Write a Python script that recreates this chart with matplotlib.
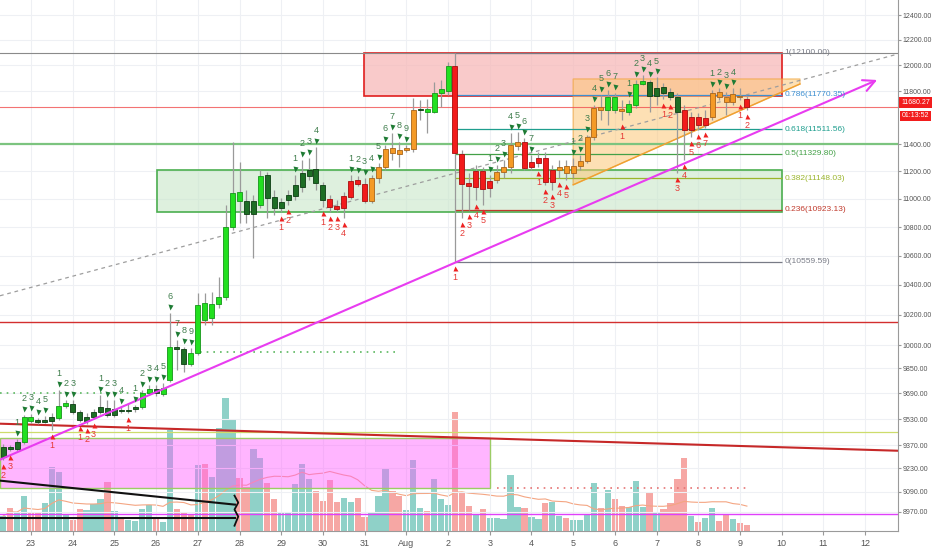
import numpy as np
import pandas as pd
import matplotlib
matplotlib.use("Agg")
import matplotlib.pyplot as plt
from matplotlib.patches import Rectangle, Polygon
from matplotlib.ticker import FixedLocator, NullLocator, FixedFormatter
import matplotlib.transforms as mtransforms

plt.rcParams['font.family'] = ['Liberation Sans', 'DejaVu Sans']

# ---------------- data ----------------
# time in days since 23 Jul 00:00, 4h candles starting 22 Jul 08:00
first_candle_day = -2 / 3
n_candles = 108

opens = [9299, 9360, 9348, 9390, 9544, 9526, 9513, 9520, 9538, 9613,
         9625, 9575, 9520, 9544, 9575, 9600, 9557, 9588, 9582, 9594,
         9607, 9695, 9720, 9689, 9777, 9989, 9977, 9950, 9950, 10280,
         10180, 10273, 10320, 10801, 11050, 10986, 10893, 10957, 11173, 11014,
         10936, 10993, 11022, 11086, 11166, 11217, 11101, 11000, 10950, 10936,
         11014, 11137, 11108, 10986, 11151, 11231, 11371, 11356, 11356, 11364,
         11656, 11664, 11641, 11786, 11801, 11995, 11327, 11115, 11086, 11202,
         11079, 11137, 11195, 11231, 11386, 11416, 11231, 11261, 11297, 11122,
         11210, 11239, 11188, 11239, 11275, 11453, 11679, 11656, 11756, 11664,
         11641, 11694, 11855, 11870, 11763, 11832, 11794, 11756, 11656, 11505,
         11603, 11543, 11603, 11794, 11756, 11717, 11763, 11740]
highs = [9378, 9372, 9409, 9557, 9563, 9538, 9551, 9569, 9714, 9651,
         9651, 9588, 9569, 9594, 9682, 9651, 9651, 9607, 9632, 9619,
         9714, 9745, 9745, 9758, 10213, 10035, 9989, 9983, 10347, 10347,
         10354, 10455, 10957, 11416, 11268, 11065, 11029, 11210, 11195, 11065,
         11007, 11065, 11173, 11283, 11297, 11379, 11122, 11029, 10993, 11050,
         11173, 11166, 11151, 11173, 11261, 11394, 11483, 11416, 11394, 11748,
         11732, 11740, 11870, 11886, 12026, 12097, 11357, 11188, 11246, 11231,
         11173, 11246, 11283, 11483, 11490, 11446, 11320, 11342, 11342, 11246,
         11283, 11283, 11297, 11320, 11468, 11694, 11771, 11809, 11786, 11732,
         11732, 11886, 11925, 11886, 11909, 11863, 11824, 11786, 11694, 11641,
         11633, 11656, 11809, 11824, 11794, 11824, 11824, 11763]
lows = [9281, 9336, 9336, 9378, 9507, 9501, 9507, 9464, 9526, 9600,
        9563, 9513, 9501, 9532, 9563, 9544, 9544, 9569, 9569, 9575,
        9594, 9682, 9676, 9676, 9764, 9841, 9828, 9867, 9938, 10134,
        10134, 10246, 10300, 10780, 10829, 10829, 10585, 10936, 10864, 10886,
        10907, 10957, 10993, 11050, 11137, 11065, 10943, 10907, 10907, 10864,
        11000, 11094, 10972, 10972, 11115, 11210, 11283, 11231, 11342, 11342,
        11580, 11483, 11633, 11679, 11771, 10559.59, 10864, 10922, 10993, 10957,
        11014, 11115, 11151, 11188, 11357, 11210, 11210, 11231, 11101, 11065,
        11151, 11137, 11151, 11210, 11261, 11431, 11580, 11543, 11633, 11580,
        11618, 11671, 11847, 11641, 11694, 11740, 11732, 11188, 11283, 11453,
        11505, 11520, 11580, 11732, 11618, 11694, 11732, 11656]
closes = [9360, 9348, 9390, 9544, 9520, 9513, 9526, 9544, 9613, 9632,
          9575, 9526, 9544, 9575, 9607, 9557, 9594, 9582, 9588, 9607,
          9695, 9720, 9695, 9726, 9989, 9977, 9880, 9880, 10266, 10167,
          10273, 10320, 10801, 11043, 10986, 10893, 10986, 11166, 11007, 10936,
          10979, 11029, 11101, 11188, 11210, 11115, 10993, 10943, 10929, 11022,
          11130, 11108, 10986, 11151, 11231, 11364, 11334, 11327, 11371, 11656,
          11664, 11641, 11786, 11817, 11995, 11334, 11108, 11094, 11202, 11072,
          11130, 11195, 11231, 11394, 11416, 11224, 11268, 11297, 11122, 11210,
          11231, 11188, 11239, 11275, 11453, 11671, 11656, 11756, 11656, 11649,
          11702, 11855, 11878, 11763, 11824, 11786, 11756, 11641, 11505, 11603,
          11543, 11595, 11786, 11756, 11717, 11778, 11756, 11680.27]
# bar colouring of the chart's indicator: L lime, D dark green, R red, O orange
bar_colors = ("DDDLLDDDLL" "DDDDDDDDDD" "LLDLLDDLLL" "LLLLLDDLDD" "DDDDDDDRRR"
              "RRROOOOOOO" "DLLLLRRRRR" "ROOOORRRRR" "OOOOOOOLLO" "LLLDDDDDRR"
              "RROOOOOR")
volumes = [1500, 2300, 1900, 3500, 1900, 1800, 2800, 6400, 5900, 1700,
           1100, 2200, 2100, 2700, 3200, 4900, 2000, 1400, 1100, 1000,
           2200, 2600, 1400, 900, 10100, 2200, 1800, 1700, 6600, 6700,
           5400, 10300, 13300, 11100, 5300, 4400, 8200, 7300, 4800, 3200,
           1900, 1900, 4700, 6700, 5200, 4000, 3000, 5100, 2900, 3300,
           2900, 3300, 1400, 1800, 3500, 6300, 4000, 3500, 2100, 7100,
           2300, 2000, 5200, 3200, 2600, 11900, 3900, 2500, 1700, 2200,
           1300, 1300, 1200, 5600, 2400, 2300, 1400, 1200, 2800, 2900,
           1500, 1300, 1100, 1100, 1600, 4800, 2300, 4100, 3200, 2500,
           2400, 5000, 2400, 3800, 1800, 2200, 2800, 5200, 7300, 1500,
           900, 1300, 2300, 1000, 1600, 1200, 800, 600]

# TD-sequential style counts
sell_idx = [2, 3, 4, 5, 6, 8, 9, 10, 14, 15, 16, 17, 19, 20, 21, 22, 23, 24, 25, 26, 27,
            42, 43, 44, 45, 50, 51, 52, 53, 54, 55, 56, 57, 58,
            70, 71, 72, 73, 74, 75, 76, 82, 83, 84, 85, 86, 87, 88,
            90, 91, 92, 93, 94, 102, 103, 104, 105]
sell_num = [1, 2, 3, 4, 5, 1, 2, 3, 1, 2, 3, 4, 1, 2, 3, 4, 5, 6, 7, 8, 9,
            1, 2, 3, 4, 1, 2, 3, 4, 5, 6, 7, 8, 9,
            1, 2, 3, 4, 5, 6, 7, 1, 2, 3, 4, 5, 6, 7,
            1, 2, 3, 4, 5, 1, 2, 3, 4]
buy_idx = [0, 1, 7, 11, 12, 13, 18, 40, 41, 46, 47, 48, 49, 65, 66, 67, 68, 69,
           77, 78, 79, 80, 81, 89, 95, 96, 97, 98, 99, 100, 101, 106, 107]
buy_num = [2, 3, 1, 1, 2, 3, 1, 1, 2, 1, 2, 3, 4, 1, 2, 3, 4, 5,
           1, 2, 3, 4, 5, 1, 1, 2, 3, 4, 5, 6, 7, 1, 2]

day_labels = ['23', '24', '25', '26', '27', '28', '29', '30', '31', 'Aug',
              '2', '3', '4', '5', '6', '7', '8', '9', '10', '11', '12']
price_ticks = [12400, 12200, 12000, 11800, 11400, 11200, 11000, 10800, 10600,
               10400, 10200, 10000, 9850, 9690, 9530, 9370, 9230, 9090, 8970]

fib_names = ['1', '0.786', '0.618', '0.5', '0.382', '0.236', '0']
fib_prices = [12100.00, 11770.35, 11511.56, 11329.80, 11148.03, 10923.13, 10559.59]
fib_colors = ['#787b86', '#3d8fd1', '#1e9e8e', '#43a047', '#9bb52c', '#c0392b', '#787b86']

last_price = 11680.27
timer_text = '01:13:52'

# ---------------- figure ----------------
W, H = 932, 550
fig = plt.figure(figsize=(W / 100, H / 100), dpi=100)
fig.patch.set_facecolor('white')
plot_right, plot_bottom = 898, 531
rect = [0, (H - plot_bottom) / H, plot_right / W, plot_bottom / H]
ax_v = fig.add_axes(rect)
ax = fig.add_axes(rect)
ax.set_facecolor('none')

x0, x1 = -0.743, 20.79
y0, y1 = 8859.4, 12521.8

t = first_candle_day + np.arange(n_candles) / 6.0
o = np.array(opens, float); h = np.array(highs, float)
l = np.array(lows, float); c = np.array(closes, float)
v = np.array(volumes, float)

# volume (overlay at bottom)
vcols = np.where(c >= o, '#8fd1c8', '#f6a7a4')
ax_v.bar(t, v, width=0.15, color=vcols, linewidth=0, zorder=2)
vma = pd.Series(v).rolling(20, min_periods=1).mean()
ax_v.plot(t, vma, color='#f4a582', lw=0.8, zorder=3)
ax_v.set_xlim(x0, x1)
ax_v.set_ylim(0, 53100)
ax_v.set_axis_off()

# price axes
ax.set_yscale('log')
ax.set_xlim(x0, x1)
ax.set_ylim(y0, y1)

for d in range(len(day_labels)):
    ax.axvline(d, color='#eef0f4', lw=0.8, zorder=0)
for p in price_ticks:
    ax.axhline(p, color='#eef0f4', lw=0.8, zorder=0)

# zones
ax.add_patch(Rectangle((x0, 9113), 11.0 - x0, 9415 - 9113, facecolor='#ff5cff', alpha=0.45,
                       edgecolor='none', zorder=1))
ax.add_patch(Rectangle((x0, 9113), 11.0 - x0, 9415 - 9113, facecolor='none',
                       edgecolor='#9ccc65', lw=1.0, zorder=1.1))
ax.add_patch(Rectangle((3.02, 10907), 18.01 - 3.02, 11210 - 10907, facecolor='#c8e6c9', alpha=0.6,
                       edgecolor='none', zorder=1))
ax.add_patch(Rectangle((3.02, 10907), 18.01 - 3.02, 11210 - 10907, facecolor='none',
                       edgecolor='#4caf50', lw=1.2, zorder=1.1))
ax.add_patch(Rectangle((7.99, 11763), 18.01 - 7.99, 12097 - 11763, facecolor='#f7b9b9', alpha=0.75,
                       edgecolor='none', zorder=1))
ax.add_patch(Rectangle((7.99, 11763), 18.01 - 7.99, 12097 - 11763, facecolor='none',
                       edgecolor='#e01f1f', lw=1.2, zorder=1.1))
ax.add_patch(Polygon([(13.0, 11894), (13.0, 11101), (18.44, 11855), (18.44, 11894)],
                     closed=True, facecolor='#fcc777', alpha=0.55, edgecolor='#f0a030', lw=1.0,
                     zorder=1.2))

# horizontal levels (full width)
ax.axhline(12100, color='#8a8a8a', lw=0.8, zorder=1.5)
ax.axhline(last_price, color='#f05050', lw=0.8, alpha=0.8, zorder=1.5)
ax.axhline(11400, color='#7cc47f', lw=1.6, zorder=1.5)
ax.axhline(10155, color='#d32f2f', lw=1.0, zorder=1.5)
ax.axhline(9452, color='#cddc6b', lw=0.9, zorder=1.5)
ax.axhline(8960, color='#e040fb', lw=1.0, zorder=1.5)

# fib levels
for name, p, col in zip(fib_names, fib_prices, fib_colors):
    ax.hlines(p, 10.17, 18.01, colors=col, lw=0.9, zorder=1.6)
    ax.text(18.06, p, f"{name}({p:.2f})", color=col, fontsize=6, ha='left', va='center', zorder=7)

# dotted indicator levels
ax.hlines(9957, 4.05, 8.85, colors='#5cb860', lw=1.2, linestyles=(0, (1, 3)), zorder=1.6)
ax.hlines(9695, x0, 2.97, colors='#5cb860', lw=1.2, linestyles=(0, (1, 3)), zorder=1.6)
ax.hlines(9113, 11.17, 17.17, colors='#e57373', lw=1.2, linestyles=(0, (1, 3)), zorder=1.6)

# trend lines
ax.plot([x0, x1], [10327, 12089], color='#9e9e9e', lw=0.9, ls=(0, (3, 3)), zorder=2)
ax.plot([x0, x1], [9501, 9335], color='#c62828', lw=1.5, zorder=2)
ax.plot([x0, 4.89], [9155, 9013], color='#111111', lw=1.5, zorder=2)
ax.plot([x0, 4.89], [8937, 8937], color='#111111', lw=1.5, zorder=2)
brace_days = [4.88, 4.97, 4.88, 4.97, 4.88]
brace_prices = [9066, 9025, 8984, 8943, 8890]
ax.plot(brace_days, brace_prices, color='#111111', lw=1.3, zorder=2)
ax.plot([13.0, 18.44], [11101, 11855], color='#f0a030', lw=1.0, zorder=2)

# candles
face = {'L': '#22e01f', 'D': '#1d6e25', 'R': '#f21b1b', 'O': '#f49a26'}
edge = {'L': '#15961a', 'D': '#0c3d12', 'R': '#a80d0d', 'O': '#a8641a'}
fcs = [face[k] for k in bar_colors]
ecs = [edge[k] for k in bar_colors]
ax.vlines(t, l, h, colors='#9a9a9a', lw=0.9, zorder=3)
ax.bar(t, np.abs(c - o), bottom=np.minimum(o, c), width=0.12, color=fcs, edgecolor=ecs,
       linewidth=0.6, zorder=4)

# magenta trend arrow
ax.annotate('', xy=(20.29, 11886), xytext=(x0, 9281),
            arrowprops=dict(arrowstyle='->,head_length=0.7,head_width=0.35', color='#e83cf0',
                            lw=1.5, mutation_scale=12, shrinkA=0, shrinkB=0), zorder=5)

# TD counts
up_tri = mtransforms.offset_copy(ax.transData, fig=fig, x=0, y=6, units='dots')
up_txt = mtransforms.offset_copy(ax.transData, fig=fig, x=0, y=16, units='dots')
dn_tri = mtransforms.offset_copy(ax.transData, fig=fig, x=0, y=-6, units='dots')
dn_txt = mtransforms.offset_copy(ax.transData, fig=fig, x=0, y=-16, units='dots')
for i, k in zip(sell_idx, sell_num):
    ax.plot(t[i], h[i], marker='v', ms=3.6, color='#1e7b34', mec='none', transform=up_tri, zorder=6)
    ax.text(t[i], h[i], str(k), transform=up_txt, ha='center', va='center', fontsize=6.5,
            color='#3f7d4c', zorder=6)
for i, k in zip(buy_idx, buy_num):
    ax.plot(t[i], l[i], marker='^', ms=3.6, color='#ee2222', mec='none', transform=dn_tri, zorder=6)
    ax.text(t[i], l[i], str(k), transform=dn_txt, ha='center', va='center', fontsize=6.5,
            color='#e53935', zorder=6)

# axes styling
ax.yaxis.tick_right()
ax.yaxis.set_major_locator(FixedLocator(price_ticks))
ax.yaxis.set_major_formatter(FixedFormatter([f"{p:.2f}" for p in price_ticks]))
ax.yaxis.set_minor_locator(NullLocator())
ax.set_xticks(range(len(day_labels)))
ax.set_xticklabels(day_labels)
ax.xaxis.set_minor_locator(NullLocator())
ax.tick_params(axis='y', length=2.5, color='#999999', labelsize=5, labelcolor='#555555', pad=1)
ax.tick_params(axis='x', length=3, color='#999999', labelsize=6.5, labelcolor='#555555', pad=3)
for s in ['top', 'left']:
    ax.spines[s].set_visible(False)
ax.spines['right'].set_color('#9a9a9a')
ax.spines['bottom'].set_color('#9a9a9a')

# last price label + timer
ytr = ax.get_yaxis_transform()
ax.annotate(f"{last_price:.2f}", xy=(1.0, last_price), xycoords=ytr, xytext=(3, 4),
            textcoords='offset pixels', ha='left', va='center', fontsize=5, color='white',
            annotation_clip=False, zorder=10,
            bbox=dict(boxstyle='square,pad=0.3', fc='#f21d1d', ec='none'))
ax.annotate(timer_text, xy=(1.0, last_price), xycoords=ytr, xytext=(4, -9),
            textcoords='offset pixels', ha='left', va='center', fontsize=5, color='white',
            annotation_clip=False, zorder=10,
            bbox=dict(boxstyle='square,pad=0.25', fc='#f21d1d', ec='none'))

fig.savefig('out.png', dpi=100)
